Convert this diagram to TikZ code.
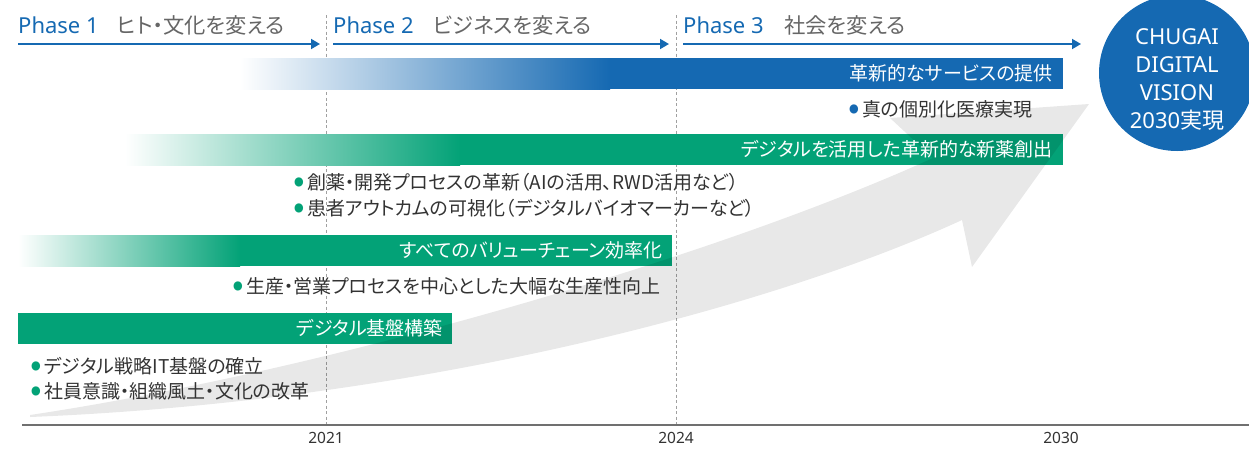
\documentclass[tikz,border=0pt]{standalone}
\usepackage{fontspec}
\usepackage{graphicx}
\setmainfont{Noto Sans CJK JP}[RawFeature=+palt]
\newfontfamily\latin{Noto Sans}
\usetikzlibrary{arrows.meta, calc}

\definecolor{cBlue}{HTML}{1569B2}
\definecolor{cGreen}{HTML}{03A277}
\definecolor{cSub}{HTML}{666666}
\definecolor{cText}{HTML}{333333}
\definecolor{cAxis}{HTML}{707070}
\definecolor{cGuide}{HTML}{A0A0A0}

\newcommand{\itemdot}[1]{\textcolor{#1}{\smash{\raisebox{-0.17em}{\scalebox{1.8}{•}}}}\hspace{0.12em}}

\begin{document}
\begin{tikzpicture}[x=1pt, y=-1pt, line join=round,
  phasehead/.style={text=cBlue, font=\latin\fontsize{22}{22}\selectfont, anchor=base west, inner sep=0pt},
  phasesub/.style={text=cSub, font=\fontsize{21.3}{22}\selectfont, anchor=base west, inner sep=0pt},
  phasearrow/.style={cBlue, line width=1.8pt, -{Triangle[length=9pt, width=10pt]}},
  bartext/.style={text=white, font=\fontsize{19}{20}\selectfont, anchor=east, inner sep=0pt},
  item/.style={text=cText, font=\fontsize{19}{20}\selectfont, anchor=west, inner sep=0pt},
  year/.style={text=cText, font=\latin\fontsize{15.5}{16}\selectfont, inner sep=0pt},
  guide/.style={cGuide, line width=0.8pt, dash pattern=on 3pt off 2.5pt}]

  \useasboundingbox (0,0) rectangle (1249,448);

  % Define guide and axis end points
  \coordinate (G21t) at (326,15);
  \coordinate (G21b) at (326,425);
  \coordinate (G24t) at (676,15);
  \coordinate (G24b) at (676,425);
  \coordinate (AxL) at (22,425);
  \coordinate (AxR) at (1249,425);

  % Phase arrow end points
  \coordinate (A1s) at (18,44);
  \coordinate (A1e) at (320,44);
  \coordinate (A2s) at (333,44);
  \coordinate (A2e) at (669,44);
  \coordinate (A3s) at (683,44);
  \coordinate (A3e) at (1081,44);

  % Draw guides and time axis
  \draw[guide] (G21t) -- (G21b);
  \draw[guide] (G24t) -- (G24b);
  \draw[cAxis, line width=1.6pt] (AxL) -- (AxR);

  % Phase headers
  \node[phasehead] (ph1) at (18,33) {Phase 1};
  \node[phasesub] (ph1t) at (117,33) {ヒト・文化を変える};
  \node[phasehead] (ph2) at (333,33) {Phase 2};
  \node[phasesub] (ph2t) at (433,33) {ビジネスを変える};
  \node[phasehead] (ph3) at (683,33) {Phase 3};
  \node[phasesub] (ph3t) at (784,33) {社会を変える};
  \draw[phasearrow] (A1s) -- (A1e);
  \draw[phasearrow] (A2s) -- (A2e);
  \draw[phasearrow] (A3s) -- (A3e);

  % Fill the bars (fade in from the left)
  \shade[left color=white, right color=cBlue] (240,58) rectangle (610,89);
  \fill[cBlue] (609.5,58) rectangle (1063,89);
  \shade[left color=white, right color=cGreen] (125,134) rectangle (460,165);
  \fill[cGreen] (459.5,134) rectangle (1063,165);
  \shade[left color=white, right color=cGreen] (18,235) rectangle (240,266);
  \fill[cGreen] (239.5,235) rectangle (672,266);
  \fill[cGreen] (18,313) rectangle (452,344);

  % Big growth arrow
  \fill[black, fill opacity=0.09] (30,415) .. controls (330,370) and (720,255) .. (933,158)
    -- (890,118) -- (1089,104) -- (972,267) -- (962,220)
    .. controls (800,295) and (450,400) .. (30,417) -- cycle;

  % Bar labels
  \node[bartext] (svc) at (1053,73.5) {革新的なサービスの提供};
  \node[bartext] (drug) at (1053,149.5) {デジタルを活用した革新的な新薬創出};
  \node[bartext] (chain) at (663,250.5) {すべてのバリューチェーン効率化};
  \node[bartext] (base) at (443,328.5) {デジタル基盤構築};

  % Bullet items
  \node[item] (i1) at (848,109) {\itemdot{cBlue}真の個別化医療実現};
  \node[item] (i2) at (293,182) {\itemdot{cGreen}創薬・開発プロセスの革新（AIの活用、RWD活用など）};
  \node[item] (i3) at (293,208) {\itemdot{cGreen}患者アウトカムの可視化（デジタルバイオマーカーなど）};
  \node[item] (i4) at (232,286) {\itemdot{cGreen}生産・営業プロセスを中心とした大幅な生産性向上};
  \node[item] (i5) at (30,366) {\itemdot{cGreen}デジタル戦略IT基盤の確立};
  \node[item] (i6) at (30,391) {\itemdot{cGreen}社員意識・組織風土・文化の改革};

  % Vision circle
  \node[circle, fill=cBlue, minimum size=156pt, inner sep=0pt] (vision) at (1177,73) {};
  \node[text=white, align=center, font=\latin\fontsize{22}{28}\selectfont] (visiont) at (1177,79)
    {CHUGAI\\DIGITAL\\VISION\\2030{\rmfamily 実現}};

  % Year labels
  \node[year] (y21) at (326,438) {2021};
  \node[year] (y24) at (676,438) {2024};
  \node[year] (y30) at (1061,438) {2030};
\end{tikzpicture}
\end{document}
